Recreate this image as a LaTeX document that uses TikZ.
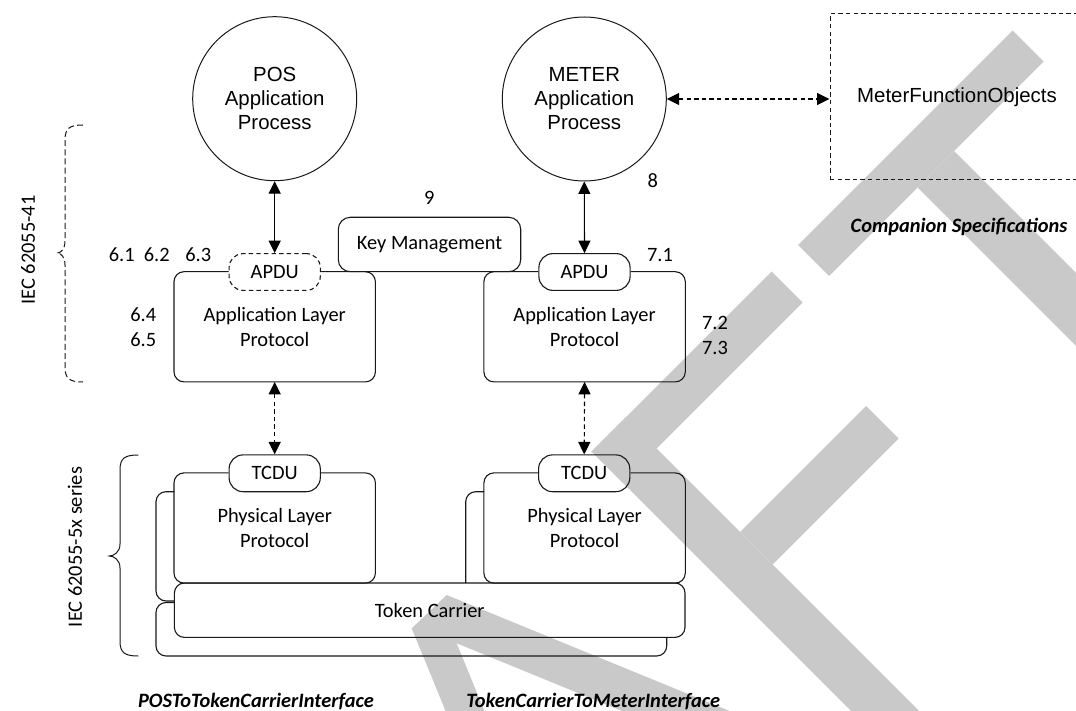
\documentclass[tikz,border=0pt]{standalone}
\usepackage{fontspec}
\setmainfont{Carlito}
\newfontfamily\arialfont{Liberation Sans}
\usetikzlibrary{arrows.meta,calc}
\definecolor{wmgrey}{RGB}{201,201,201}
\definecolor{ink}{RGB}{25,25,25}
\begin{document}
\begin{tikzpicture}[x=0.5pt,y=-0.5pt,
  every node/.style={font=\fontsize{10.2pt}{12.5pt}\selectfont, inner sep=0pt, text=black},
  frame/.style={draw=ink, line width=0.55pt, rounded corners=5pt},
  pill/.style={draw=ink, line width=0.55pt, rounded corners=7pt, minimum width=45.6pt, minimum height=18.4pt},
  layer/.style={minimum width=100.3pt, minimum height=54.7pt, align=center},
  proc/.style={circle, draw=ink, line width=0.5pt, minimum size=82pt, align=center,
    font=\arialfont\fontsize{10.2pt}{12pt}\selectfont},
  link/.style={line width=0.55pt, draw=black,
    {Triangle[length=6.2pt,width=6pt]}-{Triangle[length=6.2pt,width=6pt]}},
  dlink/.style={link, dash pattern=on 2.2pt off 1.6pt},
  title/.style={font=\bfseries\itshape\fontsize{10.2pt}{12pt}\selectfont},
  num/.style={align=center},
  ]
\useasboundingbox (0,0) rectangle (1076,711);

% ---------- DRAFT watermark (letters A, F, T) ----------
\begin{scope}
  \clip (0,0) rectangle (1076,711);
  \fill[wmgrey] (523,900) -- (411.7,628.3) -- (446.7,595) -- (1000,821.9)
    -- (1000,866) -- (456.7,643.3) -- (561.9,900) -- cycle;
  \fill[wmgrey] (771.5,271.5) -- (802.5,302.5) -- (622.5,482.5) -- (591.5,451.5) -- cycle;
  \fill[wmgrey] (625.5,417.5) -- (591.5,451.5) -- (1070,930) -- (1104,896) -- cycle;
  \fill[wmgrey] (866,406) -- (898.5,438.5) -- (772.5,564.5) -- (740,532) -- cycle;
  \fill[wmgrey] (1012.5,30.5) -- (1043.5,61.5) -- (829,276) -- (798,245) -- cycle;
  \fill[wmgrey] (954,151) -- (917.5,187.5) -- (1365,635) -- (1401.5,598.5) -- cycle;
\end{scope}

% ---------- application processes ----------
\node[proc] (pos) at (274.7,98.7) {POS\\Application\\Process};
\node[proc] (meter) at (584.3,99) {METER\\Application\\Process};
\node[draw=ink, line width=0.5pt, dash pattern=on 2.2pt off 1.6pt,
  minimum width=127pt, minimum height=83pt,
  font=\arialfont\fontsize{10.2pt}{12pt}\selectfont] (mfo) at (957,97) {MeterFunctionObjects};

% ---------- application layer ----------
\node[layer] (alpL) at (274.7,326.8) {Application Layer\\Protocol};
\node[layer] (alpR) at (584.6,326.8) {Application Layer\\Protocol};
\node[pill, dash pattern=on 2.2pt off 1.6pt] (apduL) at (274.7,272) {APDU};
\node[pill] (apduR) at (584.5,272) {APDU};
\node[draw=ink, line width=0.55pt, rounded corners=6pt, minimum width=91.2pt,
  minimum height=27.2pt] (km) at (429.5,244.5) {Key Management};

\draw[frame] (apduL.east |- alpL.north) -- (alpL.north east) -- (alpL.south east)
  -- (alpL.south west) -- (alpL.north west) -- (apduL.west |- alpL.north);
\draw[frame] (apduR.east |- alpR.north) -- (alpR.north east) -- (alpR.south east)
  -- (alpR.south west) -- (alpR.north west) -- (apduR.west |- alpR.north);

% ---------- physical layer and token carrier ----------
\node[layer] (physL) at (274.7,528) {Physical Layer\\Protocol};
\node[layer] (physR) at (584.6,528) {Physical Layer\\Protocol};
\node[pill] (tcduL) at (274.7,473.3) {TCDU};
\node[pill] (tcduR) at (584.2,473.3) {TCDU};
\node[draw=ink, line width=0.55pt, rounded corners=5pt, minimum width=255.3pt,
  minimum height=27.2pt] (token) at (429.7,610.2) {Token Carrier};

\draw[frame] (tcduL.east |- physL.north) -- (physL.north east) -- (physL.south east)
  -- (physL.south west) -- (physL.north west) -- (tcduL.west |- physL.north);
\draw[frame] (tcduR.east |- physR.north) -- (physR.north east) -- (physR.south east)
  -- (physR.south west) -- (physR.north west) -- (tcduR.west |- physR.north);

% stacked outlines behind the lower layers
\draw[frame] (174.3,491.7) -- (156,491.7) -- (156,601) -- (174.3,601);
\draw[frame] (174.3,602.5) -- (156,602.5) -- (156,656) -- (666.7,656) -- (666.7,637.3);
\draw[frame] (484,491.7) -- (465.7,491.7) -- (465.7,583);

% ---------- connectors ----------
\draw[link] (pos.south) -- (apduL.north);
\draw[link] (meter.south) -- (apduR.north);
\draw[dlink] (alpL.south) -- (tcduL.north);
\draw[dlink] (alpR.south) -- (tcduR.north);
\draw[dlink] (meter.east) -- (meter.east -| mfo.west);

% ---------- clause numbers ----------
\node[num] (n9) at (429.3,198.3) {9};
\node[num] (n8) at (652.7,180.7) {8};
\node[num] (n71) at (660,255) {7.1};
\node[num] (n72) at (715,335.8) {7.2\\7.3};
\node[num] (n61) at (121.7,255) {6.1};
\node[num] (n62) at (156.7,255) {6.2};
\node[num] (n63) at (198.3,254.5) {6.3};
\node[num] (n64) at (143.3,327.5) {6.4\\6.5};

% ---------- standard braces ----------
\draw[ink, line width=0.5pt, dash pattern=on 3pt off 1.6pt]
  (83,125) .. controls (70,125) and (65,128) .. (65,140) -- (65,241)
  .. controls (65,249) and (61,253) .. (57,253)
  .. controls (61,253) and (65,257) .. (65,265) -- (65,367)
  .. controls (65,379) and (70,382) .. (83,382);
\draw[ink, line width=0.5pt]
  (138.3,455) .. controls (125,455) and (120,458) .. (120,470) -- (120,544)
  .. controls (120,552) and (114,556) .. (109.3,556)
  .. controls (114,556) and (120,560) .. (120,568) -- (120,641)
  .. controls (120,653) and (125,656) .. (138.3,656);
\node[rotate=90] (iec41) at (28,250) {IEC 62055-41};
\node[rotate=90] (iec5x) at (75,547) {IEC 62055-5x series};

% ---------- interface and specification titles ----------
\node[title] (comp) at (959,226.7) {Companion Specifications};
\node[title] (posif) at (256,702) {POSToTokenCarrierInterface};
\node[title] (meterif) at (593.3,702) {TokenCarrierToMeterInterface};
\end{tikzpicture}
\end{document}
